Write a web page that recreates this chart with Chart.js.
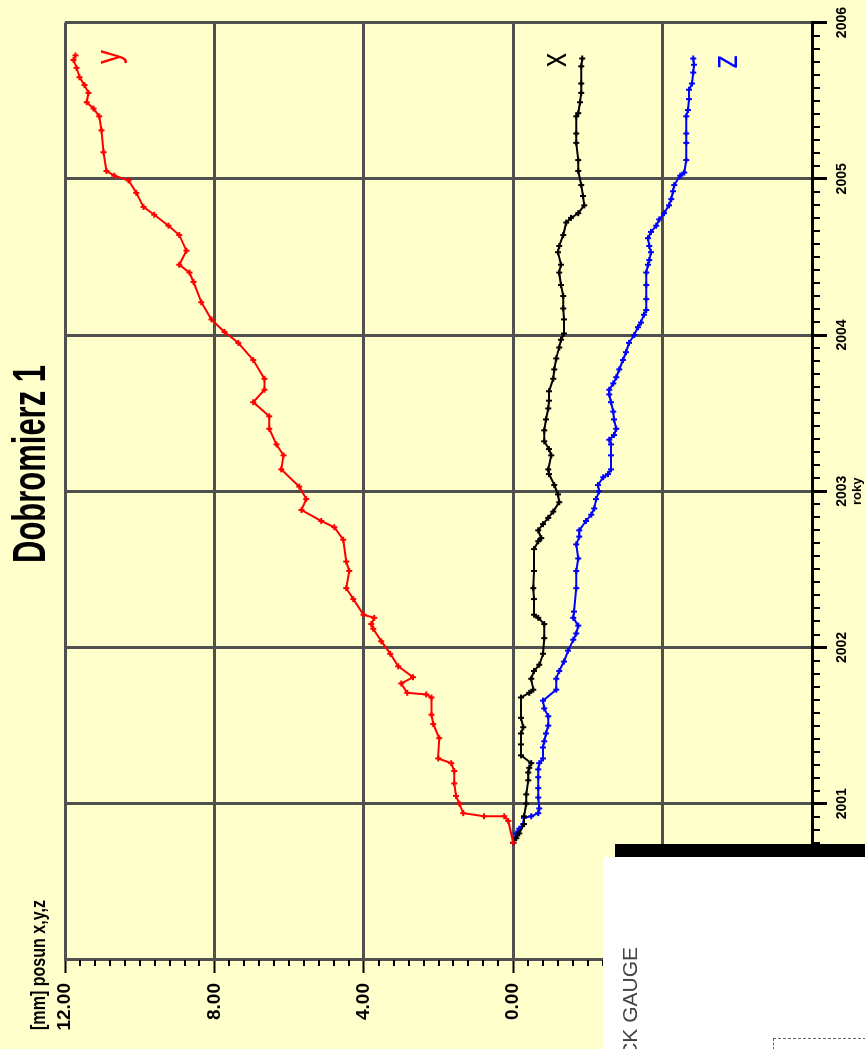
<!DOCTYPE html>
<html>
<head>
<meta charset="utf-8">
<script src="https://cdn.jsdelivr.net/npm/chart.js@4/dist/chart.umd.min.js"></script>
<style>
  html, body { margin: 0; padding: 0; width: 865px; height: 1049px; overflow: hidden; background: #ffffcc; }
  /* chart is drawn landscape and turned a quarter turn, like the scanned page */
  #wrap { position: absolute; left: 0; top: 0; width: 1049px; height: 865px;
          transform-origin: 0 0; transform: translateY(1049px) rotate(-90deg); }
  #chart { display: block; }
  #sheet { position: absolute; left: 603px; top: 857px; width: 262px; height: 192px; background: #fff; }
  #bar { position: absolute; left: 615px; top: 844px; width: 250px; height: 13px; background: #000; }
  #gauge { position: absolute; left: 619px; top: 1147px; width: 200px; text-align: right; white-space: nowrap;
           transform-origin: 0 0; transform: rotate(-90deg);
           font: 21px "Liberation Sans", Arial, sans-serif; line-height: 21px; color: #444; }
  #dash { position: absolute; left: 773px; top: 1038px; width: 92px; height: 11px;
          border-top: 1px dashed #666; border-left: 1px dashed #666; }
</style>
</head>
<body>
<div id="wrap"><canvas id="chart" width="1049" height="865"></canvas></div>
<div id="bar"></div>
<div id="sheet"></div>
<div id="gauge">CRACK GAUGE</div>
<div id="dash"></div>
<script>
// measurement dates (decimal years) and displacement [mm]
const yTime = [2000.75, 2000.89, 2000.92, 2000.92, 2000.94, 2001.00, 2001.05, 2001.13, 2001.21, 2001.26,
  2001.29, 2001.42, 2001.51, 2001.57, 2001.68, 2001.70, 2001.71, 2001.77, 2001.81, 2001.88,
  2001.96, 2002.04, 2002.12, 2002.15, 2002.19, 2002.21, 2002.31, 2002.38, 2002.49, 2002.55,
  2002.69, 2002.77, 2002.81, 2002.88, 2002.95, 2003.03, 2003.14, 2003.23, 2003.30, 2003.40,
  2003.48, 2003.57, 2003.65, 2003.72, 2003.84, 2003.95, 2004.02, 2004.10, 2004.21, 2004.34,
  2004.40, 2004.45, 2004.54, 2004.64, 2004.70, 2004.77, 2004.82, 2004.91, 2004.99, 2005.02,
  2005.05, 2005.17, 2005.31, 2005.40, 2005.45, 2005.49, 2005.55, 2005.60, 2005.65, 2005.71,
  2005.76, 2005.79];
const yVals = [0, 0.13, 0.24, 0.78, 1.34, 1.44, 1.53, 1.58, 1.58, 1.66,
  2.01, 1.98, 2.14, 2.19, 2.19, 2.33, 2.84, 3.00, 2.68, 3.08,
  3.29, 3.53, 3.75, 3.80, 3.72, 4.01, 4.28, 4.47, 4.39, 4.47,
  4.55, 4.79, 5.14, 5.67, 5.54, 5.73, 6.21, 6.15, 6.34, 6.53,
  6.53, 6.96, 6.66, 6.66, 6.96, 7.36, 7.73, 8.08, 8.35, 8.56,
  8.67, 8.94, 8.75, 8.94, 9.23, 9.61, 9.90, 10.09, 10.30, 10.68,
  10.89, 10.97, 11.02, 11.08, 11.24, 11.42, 11.37, 11.48, 11.61, 11.69,
  11.77, 11.72];

const xTime = [2000.75, 2000.78, 2000.81, 2000.87, 2000.92, 2001.00, 2001.06, 2001.15, 2001.20, 2001.23,
  2001.26, 2001.31, 2001.38, 2001.45, 2001.49, 2001.55, 2001.68, 2001.71, 2001.73, 2001.80,
  2001.85, 2001.89, 2001.96, 2002.06, 2002.15, 2002.19, 2002.21, 2002.31, 2002.38, 2002.49,
  2002.63, 2002.68, 2002.70, 2002.75, 2002.79, 2002.83, 2002.87, 2002.93, 2002.98, 2003.04,
  2003.11, 2003.14, 2003.23, 2003.27, 2003.32, 2003.39, 2003.46, 2003.53, 2003.58, 2003.64,
  2003.72, 2003.78, 2003.85, 2003.92, 2003.97, 2004.01, 2004.10, 2004.17, 2004.25, 2004.32,
  2004.40, 2004.45, 2004.53, 2004.57, 2004.64, 2004.72, 2004.75, 2004.78, 2004.83, 2004.89,
  2004.96, 2005.05, 2005.12, 2005.23, 2005.29, 2005.40, 2005.42, 2005.49, 2005.55, 2005.61,
  2005.72, 2005.77];
const xVals = [0, -0.08, -0.16, -0.29, -0.29, -0.35, -0.35, -0.40, -0.40, -0.43,
  -0.48, -0.21, -0.21, -0.21, -0.27, -0.21, -0.21, -0.43, -0.54, -0.48,
  -0.56, -0.70, -0.80, -0.83, -0.83, -0.67, -0.56, -0.56, -0.54, -0.56,
  -0.56, -0.67, -0.75, -0.67, -0.80, -0.94, -1.07, -1.23, -1.20, -1.10,
  -0.96, -0.94, -1.02, -0.96, -0.83, -0.83, -0.88, -0.94, -0.96, -0.96,
  -1.07, -1.10, -1.15, -1.23, -1.28, -1.36, -1.36, -1.34, -1.34, -1.28,
  -1.23, -1.28, -1.20, -1.23, -1.34, -1.42, -1.55, -1.74, -1.90, -1.87,
  -1.82, -1.74, -1.74, -1.69, -1.69, -1.69, -1.74, -1.79, -1.82, -1.82,
  -1.82, -1.85];

const zTime = [2000.75, 2000.81, 2000.84, 2000.87, 2000.91, 2000.92, 2000.94, 2000.97, 2001.04, 2001.10,
  2001.17, 2001.22, 2001.26, 2001.29, 2001.36, 2001.40, 2001.45, 2001.50, 2001.56, 2001.61,
  2001.66, 2001.73, 2001.80, 2001.85, 2001.91, 2001.98, 2002.05, 2002.09, 2002.14, 2002.19,
  2002.23, 2002.38, 2002.49, 2002.57, 2002.66, 2002.71, 2002.75, 2002.81, 2002.85, 2002.89,
  2002.95, 2003.00, 2003.04, 2003.09, 2003.11, 2003.14, 2003.23, 2003.30, 2003.33, 2003.36,
  2003.40, 2003.46, 2003.51, 2003.57, 2003.62, 2003.65, 2003.69, 2003.73, 2003.78, 2003.84,
  2003.89, 2003.95, 2004.00, 2004.05, 2004.08, 2004.13, 2004.16, 2004.23, 2004.32, 2004.40,
  2004.45, 2004.48, 2004.53, 2004.57, 2004.62, 2004.66, 2004.70, 2004.74, 2004.78, 2004.83,
  2004.87, 2004.92, 2004.96, 2005.02, 2005.04, 2005.12, 2005.23, 2005.29, 2005.40, 2005.44,
  2005.51, 2005.57, 2005.61, 2005.68, 2005.73, 2005.77];
const zVals = [0, -0.08, -0.16, -0.27, -0.29, -0.48, -0.67, -0.70, -0.67, -0.67,
  -0.67, -0.67, -0.70, -0.80, -0.80, -0.83, -0.88, -0.94, -0.94, -0.83,
  -0.80, -1.15, -1.15, -1.23, -1.36, -1.47, -1.61, -1.69, -1.74, -1.61,
  -1.63, -1.69, -1.69, -1.74, -1.69, -1.77, -1.77, -1.95, -2.09, -2.17,
  -2.22, -2.30, -2.27, -2.41, -2.54, -2.62, -2.62, -2.62, -2.57, -2.70,
  -2.76, -2.70, -2.68, -2.62, -2.57, -2.57, -2.68, -2.76, -2.84, -2.94,
  -3.02, -3.10, -3.24, -3.34, -3.42, -3.50, -3.56, -3.56, -3.56, -3.56,
  -3.61, -3.64, -3.69, -3.64, -3.61, -3.69, -3.83, -3.91, -4.04, -4.17,
  -4.23, -4.28, -4.31, -4.47, -4.58, -4.63, -4.63, -4.63, -4.63, -4.68,
  -4.71, -4.71, -4.79, -4.82, -4.84, -4.82];

const seriesNames = ['y', 'x', 'z'];
const seriesColors = ['#ff0000', '#000000', '#0000ff'];
const yearTicks = [2000, 2001, 2002, 2003, 2004, 2005, 2006];
const valueTicks = [-8, -4, 0, 4, 8, 12];

const chartTitle = 'Dobromierz 1';
const valueTitle = '[mm] posun x,y,z';
const timeTitle = 'roky';

function pairs(t, v) {
  return t.map((tt, i) => ({ x: tt, y: v[i] }));
}

function series(i, t, v) {
  return {
    label: seriesNames[i],
    data: pairs(t, v),
    borderColor: seriesColors[i],
    backgroundColor: seriesColors[i],
    borderWidth: 2,
    pointStyle: 'cross',
    pointRadius: 3,
    pointBorderWidth: 2,
    tension: 0
  };
}

// draw text squeezed horizontally to a given width
function squeezed(ctx, text, font, cx, base, width, align) {
  ctx.save();
  ctx.font = font;
  const w = ctx.measureText(text).width;
  ctx.translate(cx, base);
  ctx.scale(width / w, 1);
  ctx.textAlign = align;
  ctx.textBaseline = 'alphabetic';
  ctx.fillText(text, 0, 0);
  ctx.restore();
}

const extras = {
  id: 'extras',
  afterDraw(chart) {
    const ctx = chart.ctx;
    const a = chart.chartArea;
    const sx = chart.scales.x, sy = chart.scales.y;
    ctx.save();
    // minor ticks: months on time axis, 0.4 mm on value axis
    ctx.strokeStyle = '#000';
    ctx.lineWidth = 2;
    ctx.beginPath();
    for (let m = 1; m < 72; m++) {
      if (m % 12 === 0) continue;
      const px = Math.round(sx.getPixelForValue(2000 + m / 12));
      ctx.moveTo(px, a.bottom);
      ctx.lineTo(px, a.bottom + 8);
    }
    for (let k = 1; k < 50; k++) {
      if (k % 10 === 0) continue;
      const py = Math.round(sy.getPixelForValue(-8 + k * 0.4));
      ctx.moveTo(a.left, py);
      ctx.lineTo(a.left - 6, py);
    }
    ctx.stroke();

    ctx.fillStyle = '#000';
    squeezed(ctx, chartTitle, 'bold 46px "Liberation Sans", Arial, sans-serif', 585, 45, 198, 'center');
    squeezed(ctx, valueTitle, 'bold 20px "Liberation Sans", Arial, sans-serif', 19, 45, 130, 'left');

    // series names next to the line ends
    const tags = [[2005.78, 10.54], [2005.76, -1.42], [2005.75, -5.99]];
    tags.forEach((p, i) => {
      ctx.fillStyle = seriesColors[i];
      squeezed(ctx, seriesNames[i], '35px "Liberation Sans", Arial, sans-serif',
        sx.getPixelForValue(p[0]), sy.getPixelForValue(p[1]), 14, 'center');
    });
    ctx.restore();
  }
};

new Chart(document.getElementById('chart'), {
  type: 'line',
  data: {
    datasets: [series(0, yTime, yVals), series(1, xTime, xVals), series(2, zTime, zVals)]
  },
  options: {
    responsive: false,
    animation: false,
    layout: { padding: { top: 65, right: 19, bottom: 0, left: 0 } },
    plugins: { legend: { display: false }, tooltip: { enabled: false } },
    scales: {
      x: {
        type: 'linear',
        min: yearTicks[0],
        max: yearTicks[yearTicks.length - 1],
        afterFit: s => { s.height = 53; },
        afterBuildTicks: s => { s.ticks = yearTicks.map(v => ({ value: v })); },
        ticks: {
          autoSkip: false, maxRotation: 0, padding: 7, color: '#000',
          font: { family: 'Liberation Sans', size: 14, weight: 'bold' },
          callback: v => String(v)
        },
        grid: { color: '#505050', lineWidth: 3, tickLength: 15, tickColor: '#000', tickWidth: 3 },
        border: { color: '#000', width: 3 },
        title: {
          display: true, text: timeTitle, color: '#000', padding: 0,
          font: { family: 'Liberation Sans', size: 13, weight: 'bold' }
        }
      },
      y: {
        type: 'linear',
        min: valueTicks[0],
        max: valueTicks[valueTicks.length - 1],
        afterFit: s => { s.width = 89; },
        afterBuildTicks: s => { s.ticks = valueTicks.map(v => ({ value: v })); },
        ticks: {
          padding: 10, color: '#000',
          font: { family: 'Liberation Sans', size: 19, weight: 'bold' },
          callback: v => v.toFixed(2)
        },
        grid: { color: '#505050', lineWidth: 3, tickLength: 13, tickColor: '#000', tickWidth: 2 },
        border: { color: '#505050', width: 3 }
      }
    }
  },
  plugins: [extras]
});
</script>
</body>
</html>
